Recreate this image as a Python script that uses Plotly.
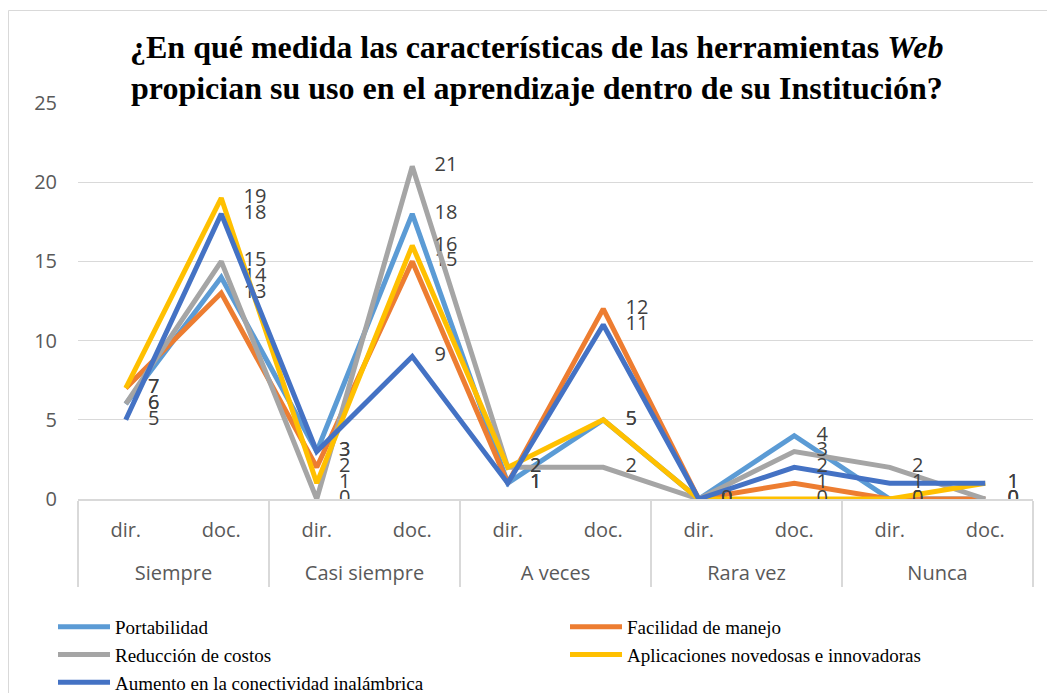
import plotly.graph_objects as go

# categorias del eje (dos niveles)
grupos = ["Siempre", "Casi siempre", "A veces", "Rara vez", "Nunca"]
sub = ["dir.", "doc."]

portabilidad = [6, 14, 3, 18, 1, 5, 0, 4, 0, 0]
facilidad = [7, 13, 2, 15, 1, 12, 0, 1, 0, 0]
reduccion = [6, 15, 0, 21, 2, 2, 0, 3, 2, 0]
aplicaciones = [7, 19, 1, 16, 2, 5, 0, 0, 0, 1]
conectividad = [5, 18, 3, 9, 1, 11, 0, 2, 1, 1]

series = [
    ("Portabilidad", portabilidad, "#5B9BD5"),
    ("Facilidad de manejo", facilidad, "#ED7D31"),
    ("Reducción de costos", reduccion, "#A5A5A5"),
    ("Aplicaciones novedosas e innovadoras", aplicaciones, "#FFC000"),
    ("Aumento en la conectividad inalámbrica", conectividad, "#4472C4"),
]

# el nivel superior lleva un salto para bajar la etiqueta como en Excel
x_grupo = ["<br>" + g for g in grupos for _ in sub]
x_sub = sub * len(grupos)

fig = go.Figure()
for nombre, vals, color in series:
    fig.add_trace(go.Scatter(
        x=[x_grupo, x_sub], y=vals, name=nombre,
        mode="lines+markers+text",
        line=dict(color=color, width=5),
        marker=dict(size=34, color="rgba(0,0,0,0)"),
        text=[str(v) for v in vals],
        textposition="middle right",
        textfont=dict(family="Open Sans", size=20, color="#404040"),
    ))

# la pagina deja 8px de margen en body
W, H = 1047, 685
L, R, T, B = 70, 22, 95, 194
pw, ph = W - L - R, H - T - B

def px_x(x):
    return (x - L) / pw

def px_y(y):
    return (H - B - y) / ph

titulo_font = dict(family="Liberation Serif", size=32, color="black")
fig.add_annotation(text="<b>¿En qué medida las características de las herramientas <i>Web</i></b>",
                   xref="paper", yref="paper", x=px_x(529), y=px_y(39),
                   showarrow=False, font=titulo_font, yanchor="middle")
fig.add_annotation(text="<b>propician su uso en el aprendizaje dentro de su Institución?</b>",
                   xref="paper", yref="paper", x=px_x(529), y=px_y(80),
                   showarrow=False, font=titulo_font, yanchor="middle")

# marco del grafico
fig.add_shape(type="rect", xref="paper", yref="paper",
              x0=px_x(0.5), x1=px_x(1060), y0=px_y(700), y1=px_y(2.5),
              line=dict(color="#D9D9D9", width=1))

fig.update_xaxes(
    type="multicategory", range=[-0.5, 9.5],
    showline=True, linecolor="#D9D9D9", linewidth=1.5,
    showdividers=True, dividercolor="#D9D9D9", dividerwidth=1.5,
    tickfont=dict(family="Open Sans", size=20, color="#595959"),
    ticklabelstandoff=12,
    showgrid=False,
)
fig.update_yaxes(
    range=[0, 25], dtick=5, gridcolor="#D9D9D9", gridwidth=1.2,
    zeroline=False, showline=False,
    tickfont=dict(family="Open Sans", size=20, color="#595959"),
    ticklabelstandoff=20,
)
fig.update_layout(
    width=W, height=H,
    margin=dict(l=L, r=R, t=T, b=B, autoexpand=False),
    paper_bgcolor="white", plot_bgcolor="white",
    showlegend=True,
    legend=dict(
        orientation="h", entrywidth=445, entrywidthmode="pixels",
        x=px_x(45), y=px_y(600), xanchor="left", yanchor="top",
        font=dict(family="Liberation Serif", size=19, color="black"),
        tracegroupgap=0, itemwidth=52,
    ),
)

fig.write_html("out.html")
